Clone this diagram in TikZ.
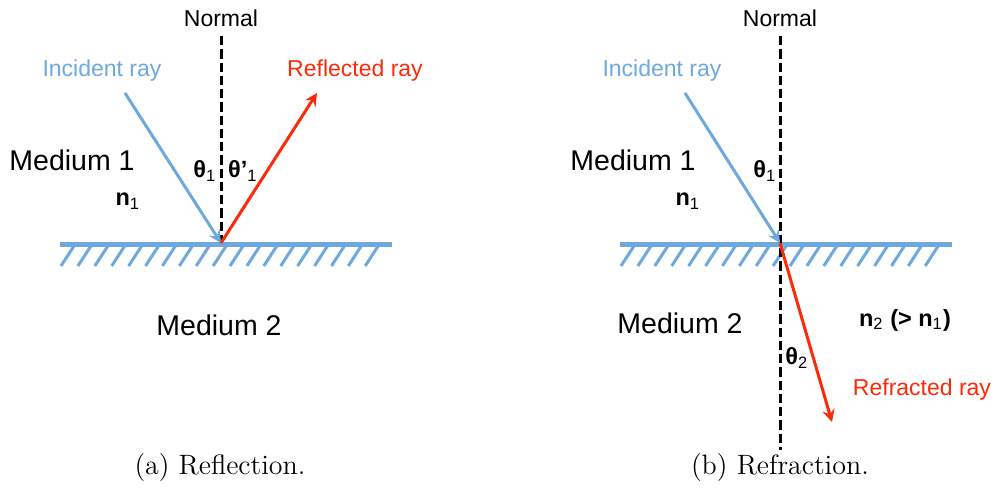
\documentclass[tikz,border=0pt]{standalone}
\usepackage{fontspec}
\setsansfont{Liberation Sans}
\usepackage{tikz}
\usepackage{xcolor}
\usetikzlibrary{positioning}
\definecolor{rayblue}{RGB}{111,168,220}
\definecolor{rayred}{RGB}{252,42,8}
\newcommand{\lowsub}[1]{\textsubscript{\mdseries #1}}

\begin{document}
\begin{tikzpicture}[x=0.4pt, y=-0.4pt, >=stealth,
    every node/.style={align=center, inner sep=0pt},
    lbl/.style={font=\fontsize{9.2}{11}\sffamily},
    medium/.style={font=\fontsize{11.4}{13}\sffamily},
    angle/.style={font=\fontsize{9.4}{11}\sffamily\bfseries},
    caption/.style={font=\fontsize{11.2}{13}\rmfamily},
    normalline/.style={black, line width=1.2pt, dash pattern=on 3.7pt off 1.6pt},
    surface/.style={rayblue, line width=2pt},
    hatch/.style={rayblue, line width=1.2pt},
    inray/.style={rayblue, line width=1.2pt, ->},
    outray/.style={rayred, line width=1.2pt, ->}]
  \useasboundingbox (0,0) rectangle (995,495);

  % surfaces with hatching
  \foreach \sx in {0,560} {
    \draw[surface] (60+\sx,244) -- (392+\sx,244);
    \foreach \i in {0,...,18}
      \draw[hatch] (61+\sx+\i*16.9,266) -- ++(13,-20);
  }

  % (a) reflection
  \node[lbl] (normalA) at (221,18) {Normal};
  \coordinate (topA) at (221,36);
  \coordinate (hitA) at (221,243);
  \coordinate (srcA) at (125,93);
  \coordinate (endA) at (317,93);
  \draw[normalline] (topA) -- (hitA);
  \draw[inray] (srcA) -- (hitA);
  \draw[outray] (hitA) -- (endA);
  \node[lbl, text=rayblue] (incA) at (102,71) {Incident ray};
  \node[lbl, text=rayred] (refl) at (355,71) {Reflected ray};
  \node[medium] (medOneA) at (72,160) {Medium 1};
  \node[angle] (nOneA) at (128,201) {n\lowsub{1}};
  \node[angle] (thOneA) at (205,171) {θ\lowsub{1}};
  \node[angle] (thOneR) at (243,171) {θ’\lowsub{1}};
  \node[medium] (medTwoA) at (219,325) {Medium 2};
  \node[caption] (capA) at (220,468) {(a) Reflection.};

  % (b) refraction
  \node[lbl] (normalB) at (780,18) {Normal};
  \coordinate (topB) at (780,36);
  \coordinate (botB) at (780,450);
  \coordinate (hitB) at (780,243);
  \coordinate (srcB) at (685,93);
  \coordinate (endB) at (832,422);
  \draw[normalline] (topB) -- (botB);
  \draw[inray] (srcB) -- (hitB);
  \draw[outray] (hitB) -- (endB);
  \node[lbl, text=rayblue] (incB) at (662,71) {Incident ray};
  \node[medium] (medOneB) at (633,160) {Medium 1};
  \node[angle] (nOneB) at (688,201) {n\lowsub{1}};
  \node[angle] (thOneB) at (765,171) {θ\lowsub{1}};
  \node[medium] (medTwoB) at (680,323) {Medium 2};
  \node[angle] (nTwo) at (905,320) {n\lowsub{2} (> n\lowsub{1})};
  \node[angle] (thTwo) at (797,358) {θ\lowsub{2}};
  \node[lbl, text=rayred] (refr) at (922,390) {Refracted ray};
  \node[caption] (capB) at (780,468) {(b) Refraction.};
\end{tikzpicture}
\end{document}
